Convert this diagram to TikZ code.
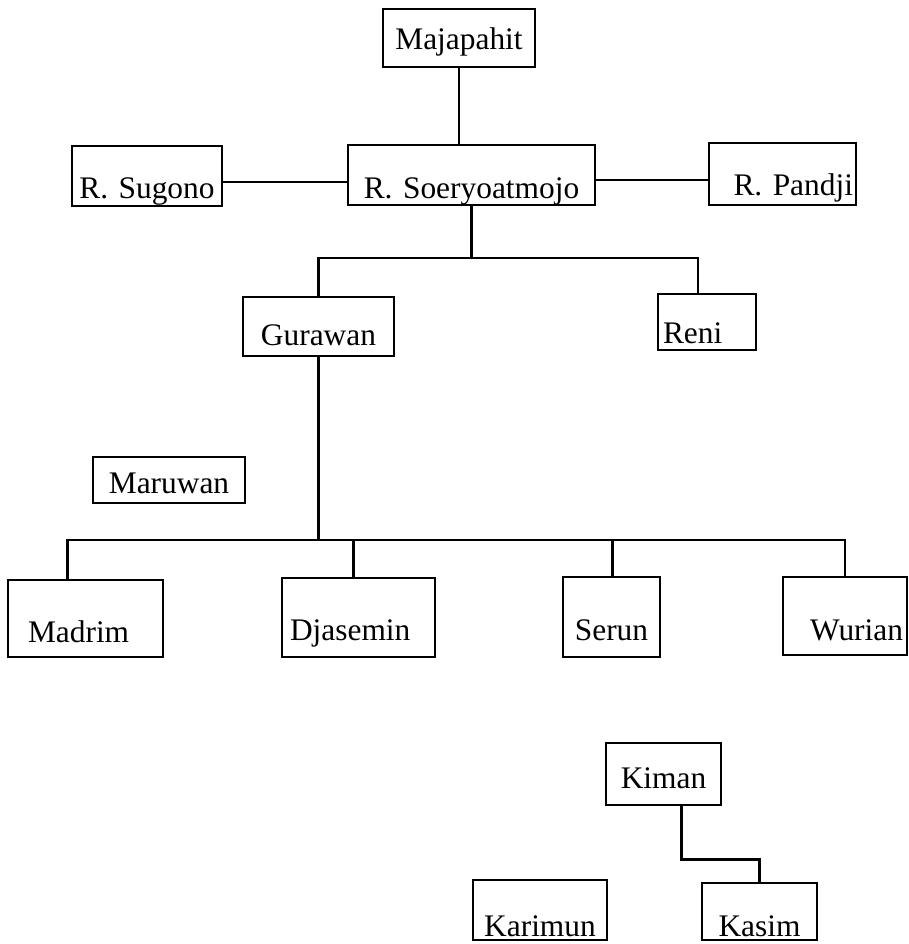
\documentclass[tikz,border=0pt]{standalone}
\usepackage{fontspec}
\setmainfont{Liberation Serif}
\usepackage{tikz}
\usetikzlibrary{calc}
\tikzset{
    box/.style={draw, line width=2.5pt, inner sep=0pt, align=center,
        font=\fontsize{31.4}{36}\selectfont},
    dims/.style n args={3}{text width=#1pt, text height=#2pt, text depth=#3pt},
    link/.style={line width=2.5pt}
}

\begin{document}
\begin{tikzpicture}[x=1pt, y=-1pt]
        \useasboundingbox (0,0) rectangle (909,944);

        \draw (459,38) node[box, dims={152}{41}{17}](maj){Majapahit};
        \draw (147,176) node[box, dims={150}{52}{8}](sug){R. Sugono};
        \draw (471.5,175) node[box, dims={247}{53}{7}](soer){R. Soeryoatmojo};
        \draw (782.5,174) node[box, dims={141}{52}{10}, align=right, inner xsep=3pt](pan){R. Pandji};
        \draw (318.5,326.5) node[box, dims={151}{48}{11}](gur){Gurawan};
        \draw (707,322) node[box, dims={88}{49}{7}, align=left, inner xsep=5pt](reni){Reni};
        \draw (169,480) node[box, dims={152}{36}{10}](maru){Maruwan};
        \draw (85.5,618.5) node[box, dims={115}{62}{15}, align=left, inner xsep=20pt](mad){Madrim};
        \draw (358.5,617.5) node[box, dims={137}{62}{17}, align=left, inner xsep=8pt](dja){Djasemin};
        \draw (611.5,617) node[box, dims={97}{63}{17}](ser){Serun};
        \draw (845,616) node[box, dims={116}{63}{15}, align=right, inner xsep=4pt](wur){Wurian};
        \draw (663.5,774) node[box, dims={115}{45}{17}](kim){Kiman};
        \draw (540,910) node[box, dims={134}{56}{4}](kar){Karimun};
        \draw (759.5,911.5) node[box, dims={115}{53}{4}](kas){Kasim};

        \coordinate (fork1) at (474,258);
        \coordinate (fork2) at (318,540);

        \draw[link] (maj.south) -- (maj.south |- soer.north);
        \draw[link] ([yshift=-6pt]sug.east) -- ([yshift=-6pt]sug.east -| soer.west);
        \draw[link] ([yshift=-5pt]soer.east) -- ([yshift=-5pt]soer.east -| pan.west);

        \draw[link] (soer.south) -- (soer.south |- fork1);
        \draw[link] (gur.north) |- (fork1) -| ([xshift=-9pt]reni.north);

        \draw[link] (gur.south) -- (gur.south |- fork2);
        \draw[link] ([xshift=-18pt]mad.north) |- (wur.north |- fork2) -- (wur.north);
        \draw[link] ([xshift=-5pt]dja.north) -- ([xshift=-5pt]dja.north |- fork2);
        \draw[link] ([xshift=1pt]ser.north) -- ([xshift=1pt]ser.north |- fork2);

        \draw[link] ([xshift=18pt]kim.south) -- ++(0,53) -| (kas.north);
    \end{tikzpicture}
\end{document}
